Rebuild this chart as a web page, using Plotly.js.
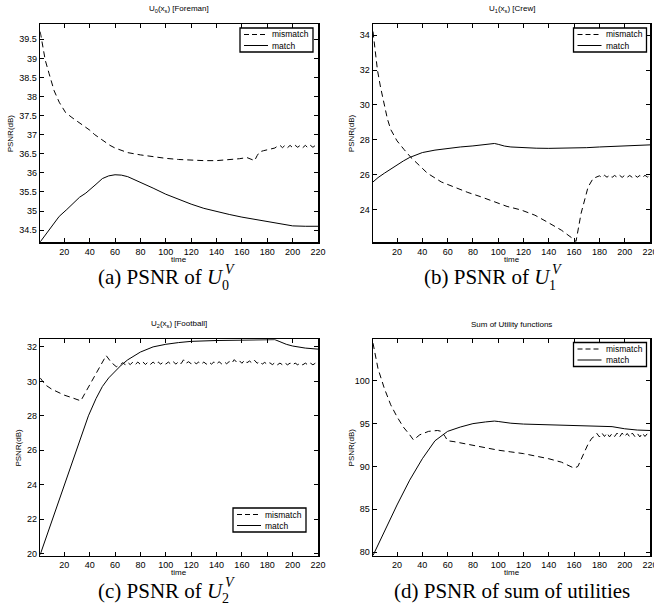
<!DOCTYPE html>
<html><head><meta charset="utf-8">
<script src="https://cdn.plot.ly/plotly-3.0.1.min.js"></script>
<style>html,body{margin:0;padding:0;background:#fff;}#chart{width:654px;height:613px;}</style>
</head><body><div id="chart"></div>
<script>
// ---------- data ----------
const timeTicks = [20,40,60,80,100,120,140,160,180,200,220];
const timeTickText = ['20','40','60','80','100','120','140','160','180','200','220'];

// (a) U0 Foreman
const timeA_mismatch = [1,3,5,8,12,16,21,26,31,36,40,44,48,52,56,60,65,70,80,90,100,110,120,130,140,150,158,164,168,170,172,174,177,180,183,186,188,190,192,194,196,198,200,202,204,206,208,210,212,214,216,218,220];
const psnrA_mismatch = [39.7,39.3,38.95,38.6,38.15,37.85,37.58,37.45,37.33,37.22,37.12,37.0,36.9,36.8,36.72,36.65,36.58,36.53,36.47,36.42,36.38,36.35,36.33,36.32,36.32,36.34,36.37,36.4,36.36,36.32,36.45,36.55,36.58,36.6,36.62,36.65,36.7,36.72,36.66,36.72,36.66,36.72,36.66,36.72,36.67,36.72,36.66,36.72,36.66,36.72,36.67,36.72,36.68];
const timeA_match = [1,6,11,16,22,27,32,37,40,45,50,55,60,65,70,80,90,100,110,120,130,140,150,160,170,180,190,200,210,220];
const psnrA_match = [34.19,34.41,34.66,34.86,35.04,35.2,35.36,35.47,35.55,35.7,35.85,35.92,35.95,35.94,35.9,35.76,35.6,35.44,35.3,35.18,35.07,34.98,34.91,34.84,34.78,34.71,34.65,34.61,34.6,34.6];
const yTicksA = [34.5,35,35.5,36,36.5,37,37.5,38,38.5,39,39.5];
const yTickTextA = ['34.5','35','35.5','36','36.5','37','37.5','38','38.5','39','39.5'];

// (b) U1 Crew
const timeB_mismatch = [1,3,4.5,7,9.7,12.4,15,20,25.6,31,39,44,55,65,76,86,97,107,118,129,139,150,159,161.5,165.5,171,175,178,180,182,184,186,188,190,192,194,196,198,200,202,204,206,208,210,212,214,216,218,220];
const psnrB_mismatch = [34.2,32.8,32.0,31.0,30.0,29.2,28.6,27.95,27.45,27.0,26.45,26.1,25.6,25.3,25.0,24.76,24.48,24.2,24.0,23.7,23.3,22.84,22.36,22.2,23.8,25.3,25.8,25.9,25.95,25.85,25.98,25.87,25.98,25.86,25.97,25.87,25.98,25.86,25.98,25.87,25.97,25.86,25.98,25.87,25.97,25.86,25.98,25.88,25.95];
const timeB_match = [1,5,10,15,20,25,30,35,40,50,60,70,80,90,97,100,105,110,120,130,140,150,160,170,180,190,200,210,220];
const psnrB_match = [25.6,25.85,26.1,26.35,26.6,26.8,27.0,27.15,27.28,27.42,27.52,27.6,27.66,27.73,27.8,27.75,27.65,27.6,27.55,27.53,27.52,27.52,27.53,27.56,27.6,27.63,27.67,27.7,27.72];
const yTicksB = [24,26,28,30,32,34];
const yTickTextB = ['24','26','28','30','32','34'];

// (c) U2 Football
const timeC_mismatch = [1,5,10,15,20,25,30,33,37,41,45,49,53,57,61,64,66,68,70,72,74,76,78,80,82,84,86,88,90,92,94,96,98,100,102,104,106,108,110,112,114,116,118,120,122,124,126,128,130,132,134,136,138,140,142,144,146,148,150,152,154,156,158,160,162,164,166,168,170,172,174,176,178,180,182,184,186,188,190,192,194,196,198,200,202,204,206,208,210,212,214,216,218,220];
const psnrC_mismatch = [30.2,29.8,29.55,29.35,29.2,29.08,28.95,28.87,29.4,29.92,30.45,30.97,31.5,31.1,30.85,30.95,31.08,30.97,31.1,30.97,31.12,30.98,31.12,30.98,31.12,30.98,31.12,30.99,31.12,30.99,31.12,31.0,31.12,31.0,31.12,31.0,31.13,31.0,31.14,31.02,31.25,31.05,31.14,31.02,31.14,31.02,31.12,31.0,31.12,31.0,31.13,31.0,31.13,31.0,31.14,31.02,31.14,31.02,31.15,31.05,31.26,31.1,31.2,31.05,31.22,31.08,31.18,31.06,31.22,31.05,31.14,31.0,31.1,30.98,31.08,30.97,31.08,30.96,31.06,30.96,31.06,30.96,31.06,30.96,31.06,30.96,31.06,30.96,31.06,30.96,31.06,30.96,31.06,31.0];
const timeC_match = [1,10,20,30,39,45,50,55,60,65,70,75,80,90,100,110,120,140,160,180,186,190,195,200,210,220];
const psnrC_match = [19.95,21.85,24.0,26.1,28.0,29.0,29.7,30.2,30.6,30.95,31.25,31.5,31.7,32.0,32.15,32.25,32.32,32.37,32.4,32.42,32.42,32.3,32.15,32.05,31.93,31.87];
const yTicksC = [20,22,24,26,28,30,32];
const yTickTextC = ['20','22','24','26','28','30','32'];

// (d) Sum of utilities
const timeD_mismatch = [1,5,10,15,20,25,30,33,38,45,52,55,58,60,65,70,80,90,100,110,120,130,140,150,155,160,163,167,171,174,176,178,180,182,184,186,188,190,192,194,196,198,200,202,204,206,208,210,212,214,216,218,220];
const psnrD_mismatch = [104.4,101.4,99.1,97.2,95.8,94.6,93.7,93.1,93.7,94.1,94.2,94.1,93.5,93.0,92.9,92.75,92.5,92.2,91.9,91.7,91.5,91.2,90.9,90.5,90.15,89.8,90.0,91.3,92.6,93.3,93.5,93.85,93.45,93.9,93.5,93.9,93.45,93.85,93.5,93.9,93.45,93.9,93.5,93.85,93.45,93.9,93.5,93.85,93.45,93.9,93.5,93.85,93.6];
const timeD_match = [1,10,20,30,40,50,60,70,80,90,97,100,110,120,140,160,180,190,200,210,220];
const psnrD_match = [79.6,82.4,85.5,88.4,90.9,93.0,94.1,94.6,95.0,95.2,95.3,95.25,95.05,94.95,94.85,94.75,94.7,94.65,94.4,94.25,94.2];
const yTicksD = [80,85,90,95,100];
const yTickTextD = ['80','85','90','95','100'];

const seriesNames = ['mismatch','match'];
const panelTitles = ['U<sub>0</sub>(x<sub>s</sub>) [Foreman]','U<sub>1</sub>(x<sub>s</sub>) [Crew]','U<sub>2</sub>(x<sub>s</sub>) [Football]','Sum of Utility functions'];
const captionMain = ['(a) PSNR of <i>U</i>','(b) PSNR of <i>U</i>','(c) PSNR of <i>U</i>','(d) PSNR of sum of utilities'];
const captionSub = ['0','1','2',''];

// ---------- layout helpers ----------
const W = 654, H = 613;
const px = v => v / W;
const py = v => 1 - v / H;
const colX = [[40.2, 318], [373, 650]];
const rowY = [[24, 242.3], [339.3, 555.5]];

const sans = 'Liberation Sans, Arial, Helvetica, sans-serif';
const serif = 'Liberation Serif, Times New Roman, serif';

function xAxis(col, anchor) {
  return {domain: [px(colX[col][0]), px(colX[col][1])], anchor: anchor, range: [1, 220],
    tickmode: 'array', tickvals: timeTicks, ticktext: timeTickText,
    ticks: 'inside', ticklen: 4, tickwidth: 1, tickcolor: '#000',
    showline: true, linecolor: '#000', linewidth: 1.5, mirror: 'ticks',
    showgrid: false, zeroline: false, fixedrange: true, ticklabeloverflow: 'allow',
    tickfont: {family: sans, size: 9, color: '#000'}};
}
function yAxis(row, anchor, range, vals, text) {
  return {domain: [py(rowY[row][1]), py(rowY[row][0])], anchor: anchor, range: range,
    tickmode: 'array', tickvals: vals, ticktext: text,
    ticks: 'inside', ticklen: 4, tickwidth: 1, tickcolor: '#000',
    showline: true, linecolor: '#000', linewidth: 1.5, mirror: 'ticks',
    showgrid: false, zeroline: false, fixedrange: true, ticklabeloverflow: 'allow',
    tickfont: {family: sans, size: 9, color: '#000'}};
}

const panels = [
  {xa: 'x', ya: 'y', tm: timeA_mismatch, pm: psnrA_mismatch, tt: timeA_match, pt: psnrA_match},
  {xa: 'x2', ya: 'y2', tm: timeB_mismatch, pm: psnrB_mismatch, tt: timeB_match, pt: psnrB_match},
  {xa: 'x3', ya: 'y3', tm: timeC_mismatch, pm: psnrC_mismatch, tt: timeC_match, pt: psnrC_match},
  {xa: 'x4', ya: 'y4', tm: timeD_mismatch, pm: psnrD_mismatch, tt: timeD_match, pt: psnrD_match}
];

const mismatchLine = {color: '#000', width: 1, dash: '6px,4px'};
const matchLine = {color: '#000', width: 1};

const traces = [];
panels.forEach(p => {
  traces.push({x: p.tm, y: p.pm, xaxis: p.xa, yaxis: p.ya, name: seriesNames[0], showlegend: false,
    type: 'scatter', mode: 'lines', line: mismatchLine, hoverinfo: 'skip'});
  traces.push({x: p.tt, y: p.pt, xaxis: p.xa, yaxis: p.ya, name: seriesNames[1], showlegend: false,
    type: 'scatter', mode: 'lines', line: matchLine, hoverinfo: 'skip'});
});

const annotations = [];
const shapes = [];
const cells = [[0,0],[1,0],[0,1],[1,1]];
const ylabelGap = [30, 22, 22, 22];
// legend boxes: [left, top] in pixels (Matlab-style boxed legend inside each axes)
const legendBoxes = [[240, 28], [573.5, 28], [233, 508], [573.5, 342.5]];
const legW = 73, legH = 24;

cells.forEach(([c, r], i) => {
  const cx = (colX[c][0] + colX[c][1]) / 2;
  annotations.push({xref: 'paper', yref: 'paper', x: px(cx), y: py(rowY[r][0] - 15), xanchor: 'center', yanchor: 'middle',
    text: panelTitles[i], showarrow: false, font: {family: sans, size: 8, color: '#000'}});
  annotations.push({xref: 'paper', yref: 'paper', x: px(cx), y: py(rowY[r][1] + 17), xanchor: 'center', yanchor: 'middle',
    text: 'time', showarrow: false, font: {family: sans, size: 8, color: '#000'}});
  annotations.push({xref: 'paper', yref: 'paper', x: px(colX[c][0] - ylabelGap[i]), y: py((rowY[r][0] + rowY[r][1]) / 2),
    xanchor: 'center', yanchor: 'middle', textangle: -90,
    text: 'PSNR(dB)', showarrow: false, font: {family: sans, size: 8, color: '#000'}});

  // captions
  const capY = rowY[r][1] + 35;
  if (captionSub[i]) {
    const xEnd = c === 0 ? 226 : 553;
    annotations.push({xref: 'paper', yref: 'paper', x: px(xEnd), y: py(capY), xanchor: 'right', yanchor: 'middle',
      text: captionMain[i], showarrow: false, font: {family: serif, size: 21, color: '#000'}});
    annotations.push({xref: 'paper', yref: 'paper', x: px(xEnd - 6), y: py(capY + 8), xanchor: 'left', yanchor: 'middle',
      text: captionSub[i], showarrow: false, font: {family: serif, size: 14, color: '#000'}});
    annotations.push({xref: 'paper', yref: 'paper', x: px(xEnd - 3), y: py(capY - 8), xanchor: 'left', yanchor: 'middle',
      text: '<i>V</i>', showarrow: false, font: {family: serif, size: 14, color: '#000'}});
  } else {
    annotations.push({xref: 'paper', yref: 'paper', x: px(512), y: py(capY), xanchor: 'center', yanchor: 'middle',
      text: captionMain[i], showarrow: false, font: {family: serif, size: 21, color: '#000'}});
  }

  // legend (boxed, two entries)
  const [lx, ly] = legendBoxes[i];
  shapes.push({type: 'rect', xref: 'paper', yref: 'paper', x0: px(lx), x1: px(lx + legW), y0: py(ly), y1: py(ly + legH),
    line: {color: '#000', width: 1.3}, fillcolor: '#fff', layer: 'above'});
  [mismatchLine, matchLine].forEach((ln, k) => {
    const yy = ly + 6.5 + k * 11;
    shapes.push({type: 'line', xref: 'paper', yref: 'paper', x0: px(lx + 4), x1: px(lx + 28), y0: py(yy), y1: py(yy),
      line: {color: '#000', width: 1, dash: k === 0 ? '5px,3px' : 'solid'}, layer: 'above'});
    annotations.push({xref: 'paper', yref: 'paper', x: px(lx + 30), y: py(yy), xanchor: 'left', yanchor: 'middle',
      text: seriesNames[k], showarrow: false, font: {family: sans, size: 8.5, color: '#000'}});
  });
});

const layout = {
  width: W, height: H, margin: {l: 0, r: 0, t: 0, b: 0},
  paper_bgcolor: '#fff', plot_bgcolor: '#fff', showlegend: false,
  xaxis: xAxis(0, 'y'), yaxis: yAxis(0, 'x', [34.18, 39.9], yTicksA, yTickTextA),
  xaxis2: xAxis(1, 'y2'), yaxis2: yAxis(0, 'x2', [22.15, 34.63], yTicksB, yTickTextB),
  xaxis3: xAxis(0, 'y3'), yaxis3: yAxis(1, 'x3', [19.9, 32.44], yTicksC, yTickTextC),
  xaxis4: xAxis(1, 'y4'), yaxis4: yAxis(1, 'x4', [79.6, 104.85], yTicksD, yTickTextD),
  shapes: shapes,
  annotations: annotations
};

Plotly.newPlot('chart', traces, layout, {displayModeBar: false, staticPlot: true});
</script></body></html>
